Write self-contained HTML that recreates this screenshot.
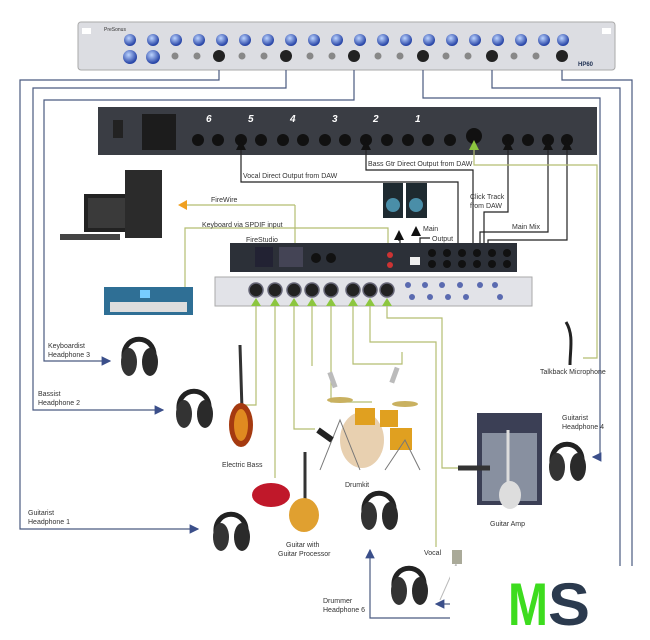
<!DOCTYPE html>
<html><head><meta charset="utf-8"><style>
body{margin:0;background:#fff}
svg{display:block;font-family:"Liberation Sans",sans-serif}
text{font-size:7px;fill:#333}
</style></head><body>
<svg width="650" height="640" viewBox="0 0 650 640" xmlns="http://www.w3.org/2000/svg">
<defs>
<radialGradient id="kb" cx="40%" cy="35%" r="60%"><stop offset="0" stop-color="#bcd4ff"/><stop offset="1" stop-color="#2a47a8"/></radialGradient>
<g id="hp"><path d="M4 30 C2 5 36 5 34 30" fill="none" stroke="#222" stroke-width="5"/><ellipse cx="9" cy="34" rx="8" ry="14" fill="#333"/><ellipse cx="30" cy="34" rx="8" ry="14" fill="#2a2a2a"/></g>
<marker id="ab" markerWidth="8" markerHeight="8" refX="7" refY="4" orient="auto"><path d="M0 0L8 4L0 8z" fill="#3b4f8a"/></marker>
</defs>
<rect x="78" y="22" width="537" height="48" rx="3" fill="#dcdde2" stroke="#aaa"/>
<rect x="82" y="28" width="9" height="6" fill="#fff"/><rect x="602" y="28" width="9" height="6" fill="#fff"/>
<g fill="url(#kb)">
<circle cx="130" cy="40" r="6"/><circle cx="153" cy="40" r="6"/><circle cx="176" cy="40" r="6"/><circle cx="199" cy="40" r="6"/><circle cx="222" cy="40" r="6"/><circle cx="245" cy="40" r="6"/><circle cx="268" cy="40" r="6"/><circle cx="291" cy="40" r="6"/><circle cx="314" cy="40" r="6"/><circle cx="337" cy="40" r="6"/><circle cx="360" cy="40" r="6"/><circle cx="383" cy="40" r="6"/><circle cx="406" cy="40" r="6"/><circle cx="429" cy="40" r="6"/><circle cx="452" cy="40" r="6"/><circle cx="475" cy="40" r="6"/><circle cx="498" cy="40" r="6"/><circle cx="521" cy="40" r="6"/><circle cx="544" cy="40" r="6"/><circle cx="563" cy="40" r="6"/>
<circle cx="130" cy="57" r="7"/><circle cx="153" cy="57" r="7"/></g>
<g fill="#222"><circle cx="219" cy="56" r="6"/><circle cx="286" cy="56" r="6"/><circle cx="354" cy="56" r="6"/><circle cx="423" cy="56" r="6"/><circle cx="492" cy="56" r="6"/><circle cx="562" cy="56" r="6"/></g>
<g fill="#888"><circle cx="175" cy="56" r="3.5"/><circle cx="197" cy="56" r="3.5"/><circle cx="242" cy="56" r="3.5"/><circle cx="264" cy="56" r="3.5"/><circle cx="310" cy="56" r="3.5"/><circle cx="332" cy="56" r="3.5"/><circle cx="378" cy="56" r="3.5"/><circle cx="400" cy="56" r="3.5"/><circle cx="446" cy="56" r="3.5"/><circle cx="468" cy="56" r="3.5"/><circle cx="514" cy="56" r="3.5"/><circle cx="536" cy="56" r="3.5"/></g>
<text x="104" y="31" style="font-size:5px">PreSonus</text><text x="578" y="66" style="font-size:6px;font-weight:bold;fill:#235">HP60</text>
<g fill="none" stroke="#4a5a80" stroke-width="1.2">
<path d="M219 70V80H20V529H198" marker-end="url(#ab)"/>
<path d="M286 70V88H33V410H163" marker-end="url(#ab)"/>
<path d="M354 70V100H44V361H110" marker-end="url(#ab)"/>
<path d="M423 70V98H600V457H593" marker-end="url(#ab)"/>
<path d="M492 70V88H620V640"/>
<path d="M562 70V80H632V640"/>
<path d="M450 618H370V550" marker-end="url(#ab)"/>
<path d="M450 604H436" marker-end="url(#ab)"/>
</g>
<rect x="98" y="107" width="499" height="48" fill="#3a3d44"/>
<rect x="113" y="120" width="10" height="18" fill="#222"/><rect x="142" y="114" width="34" height="36" fill="#1c1c1c"/>
<g fill="#111"><circle cx="198" cy="140" r="6"/><circle cx="218" cy="140" r="6"/><circle cx="241" cy="140" r="6"/><circle cx="261" cy="140" r="6"/><circle cx="283" cy="140" r="6"/><circle cx="303" cy="140" r="6"/><circle cx="325" cy="140" r="6"/><circle cx="345" cy="140" r="6"/><circle cx="366" cy="140" r="6"/><circle cx="387" cy="140" r="6"/><circle cx="408" cy="140" r="6"/><circle cx="428" cy="140" r="6"/><circle cx="450" cy="140" r="6"/><circle cx="474" cy="136" r="8"/><circle cx="508" cy="140" r="6"/><circle cx="528" cy="140" r="6"/><circle cx="548" cy="140" r="6"/><circle cx="567" cy="140" r="6"/></g>
<g><text x="206" y="122" style="fill:#fff;font-size:10px;font-weight:bold;font-style:italic">6</text><text x="248" y="122" style="fill:#fff;font-size:10px;font-weight:bold;font-style:italic">5</text><text x="290" y="122" style="fill:#fff;font-size:10px;font-weight:bold;font-style:italic">4</text><text x="332" y="122" style="fill:#fff;font-size:10px;font-weight:bold;font-style:italic">3</text><text x="373" y="122" style="fill:#fff;font-size:10px;font-weight:bold;font-style:italic">2</text><text x="415" y="122" style="fill:#fff;font-size:10px;font-weight:bold;font-style:italic">1</text></g>
<g fill="none" stroke="#222" stroke-width="1.2">
<path d="M241 142V182H458V255"/><path d="M366 142V170H473V255"/>
<path d="M508 142V212H484V255"/><path d="M548 142V232H480V255"/><path d="M567 142V240H488V255"/>
<path d="M400 250V240H398"/><path d="M420 250V238H430"/>
</g>
<g fill="#111"><path d="M236 150L241 140L246 150z"/><path d="M361 150L366 140L371 150z"/><path d="M503 150L508 140L513 150z"/><path d="M543 150L548 140L553 150z"/><path d="M562 150L567 140L572 150z"/><path d="M394 240L399 230L404 240z"/><path d="M411 236L416 226L421 236z"/></g>
<g fill="none" stroke="#b5bd72" stroke-width="1.2">
<path d="M474 142V165H597V358H583"/>
<path d="M295 205H180"/><path d="M295 205V258"/>
<path d="M185 287V228H388V250"/>
<path d="M256 300V405H245"/><path d="M275 300V478"/><path d="M294 300V429H315"/><path d="M312 300V366"/><path d="M331 300V402H372"/><path d="M353 300V364H402V352"/><path d="M370 300V342H436V547"/><path d="M387 300V318H442V468H458"/>
</g>
<path d="M178 205L187 200L187 210z" fill="#f0a020"/><path d="M290 252L295 262L300 252z" fill="#f0a020"/>
<path d="M469 150L474 140L479 150z" fill="#8cc63f"/>
<rect x="84" y="194" width="45" height="38" fill="#222"/><rect x="88" y="198" width="37" height="30" fill="#3a3a3a"/>
<rect x="125" y="170" width="37" height="68" fill="#2b2b2b"/><rect x="60" y="234" width="60" height="6" fill="#444"/>
<rect x="383" y="183" width="20" height="35" fill="#1e2a30"/><circle cx="393" cy="205" r="7" fill="#4a8ea8"/><rect x="406" y="183" width="21" height="35" fill="#1e2a30"/><circle cx="416" cy="205" r="7" fill="#4a8ea8"/>
<rect x="230" y="243" width="287" height="29" fill="#2c3038"/>
<rect x="255" y="247" width="18" height="20" fill="#223"/><rect x="279" y="247" width="24" height="20" fill="#445"/>
<g fill="#111"><circle cx="316" cy="258" r="5"/><circle cx="331" cy="258" r="5"/><circle cx="432" cy="253" r="4"/><circle cx="447" cy="253" r="4"/><circle cx="462" cy="253" r="4"/><circle cx="477" cy="253" r="4"/><circle cx="492" cy="253" r="4"/><circle cx="507" cy="253" r="4"/><circle cx="432" cy="264" r="4"/><circle cx="447" cy="264" r="4"/><circle cx="462" cy="264" r="4"/><circle cx="477" cy="264" r="4"/><circle cx="492" cy="264" r="4"/><circle cx="507" cy="264" r="4"/></g>
<rect x="410" y="257" width="10" height="8" fill="#eee"/><circle cx="390" cy="255" r="3" fill="#c33"/><circle cx="390" cy="265" r="3" fill="#c33"/>
<rect x="215" y="277" width="317" height="29" fill="#e2e3e8" stroke="#aaa"/>
<g fill="#222" stroke="#667" stroke-width="1.5"><circle cx="256" cy="290" r="7"/><circle cx="275" cy="290" r="7"/><circle cx="294" cy="290" r="7"/><circle cx="312" cy="290" r="7"/><circle cx="331" cy="290" r="7"/><circle cx="353" cy="290" r="7"/><circle cx="370" cy="290" r="7"/><circle cx="387" cy="290" r="7"/></g>
<g fill="#5a6ab0"><circle cx="408" cy="285" r="3"/><circle cx="425" cy="285" r="3"/><circle cx="442" cy="285" r="3"/><circle cx="460" cy="285" r="3"/><circle cx="480" cy="285" r="3"/><circle cx="495" cy="285" r="3"/><circle cx="412" cy="297" r="3"/><circle cx="430" cy="297" r="3"/><circle cx="448" cy="297" r="3"/><circle cx="466" cy="297" r="3"/><circle cx="500" cy="297" r="3"/></g>
<g fill="#8cc63f"><path d="M251 306L256 298L261 306z"/><path d="M270 306L275 298L280 306z"/><path d="M289 306L294 298L299 306z"/><path d="M307 306L312 298L317 306z"/><path d="M326 306L331 298L336 306z"/><path d="M348 306L353 298L358 306z"/><path d="M365 306L370 298L375 306z"/><path d="M382 306L387 298L392 306z"/></g>
<rect x="104" y="287" width="89" height="28" fill="#2f6f95"/><rect x="110" y="302" width="77" height="10" fill="#ddd"/><rect x="140" y="290" width="10" height="8" fill="#7cf"/>
<path d="M566 322C574 335 570 350 570 365" stroke="#222" stroke-width="3" fill="none"/>
<use href="#hp" x="120" y="328"/><use href="#hp" x="175" y="380"/><use href="#hp" x="212" y="503"/><use href="#hp" x="360" y="482"/><use href="#hp" x="548" y="433"/><use href="#hp" x="390" y="557"/>
<path d="M240 345L242 410" stroke="#333" stroke-width="3"/><ellipse cx="241" cy="425" rx="12" ry="22" fill="#a53a10"/><ellipse cx="241" cy="425" rx="7" ry="16" fill="#e08a20"/>
<ellipse cx="362" cy="440" rx="22" ry="28" fill="#e8d0b0"/><rect x="355" y="408" width="20" height="17" fill="#e0a020"/><rect x="380" y="410" width="18" height="17" fill="#e0a020"/><rect x="390" y="428" width="22" height="22" fill="#e0a020"/><ellipse cx="405" cy="404" rx="13" ry="3" fill="#c9b160"/><ellipse cx="340" cy="400" rx="13" ry="3" fill="#c9b160"/><path d="M320 470L340 420L360 470M385 470L405 440L420 470" stroke="#777" fill="none"/>
<rect x="330" y="372" width="5" height="16" fill="#bbb" transform="rotate(-20 332 380)"/><rect x="392" y="367" width="5" height="16" fill="#bbb" transform="rotate(20 394 375)"/>
<path d="M318 430L332 440" stroke="#222" stroke-width="6"/>
<ellipse cx="271" cy="495" rx="19" ry="12" fill="#c0182a"/><path d="M305 452V505" stroke="#333" stroke-width="3"/><ellipse cx="304" cy="515" rx="15" ry="17" fill="#e0a030"/>
<rect x="477" y="413" width="65" height="92" fill="#3b3f55"/><rect x="482" y="433" width="55" height="68" fill="#8890a0"/><path d="M508 430V485" stroke="#ddd" stroke-width="3"/><ellipse cx="510" cy="495" rx="11" ry="14" fill="#ddd"/>
<path d="M458 468H490" stroke="#333" stroke-width="5"/>
<rect x="452" y="550" width="10" height="14" fill="#aa9"/><path d="M456 564L440 600M456 564L462 600" stroke="#bbb"/>
<text x="243" y="178">Vocal Direct Output from DAW</text>
<text x="368" y="166">Bass Gtr Direct Output from DAW</text>
<text x="211" y="202">FireWire</text>
<text x="202" y="227">Keyboard via SPDIF input</text>
<text x="246" y="242">FireStudio</text>
<text x="470" y="199">Click Track</text><text x="470" y="208">from DAW</text>
<text x="512" y="229">Main Mix</text>
<text x="423" y="231">Main</text><text x="432" y="241">Output</text>
<text x="540" y="374">Talkback Microphone</text>
<text x="48" y="348">Keyboardist</text><text x="48" y="357">Headphone 3</text>
<text x="38" y="396">Bassist</text><text x="38" y="405">Headphone 2</text>
<text x="28" y="515">Guitarist</text><text x="28" y="524">Headphone 1</text>
<text x="562" y="420">Guitarist</text><text x="562" y="429">Headphone 4</text>
<text x="222" y="467">Electric Bass</text>
<text x="345" y="487">Drumkit</text>
<text x="286" y="547">Guitar with</text><text x="278" y="556">Guitar Processor</text>
<text x="490" y="526">Guitar Amp</text>
<text x="424" y="555">Vocal</text>
<text x="323" y="603">Drummer</text><text x="323" y="612">Headphone 6</text>
<rect x="450" y="566" width="200" height="74" fill="#fff"/>
<text x="508" y="625" textLength="40" lengthAdjust="spacingAndGlyphs" style="font-size:60px;font-weight:bold;fill:#3ddc1e">M</text>
<text x="548" y="625" textLength="42" lengthAdjust="spacingAndGlyphs" style="font-size:60px;font-weight:bold;fill:#2b3a4e">S</text>
</svg>
</body></html>
